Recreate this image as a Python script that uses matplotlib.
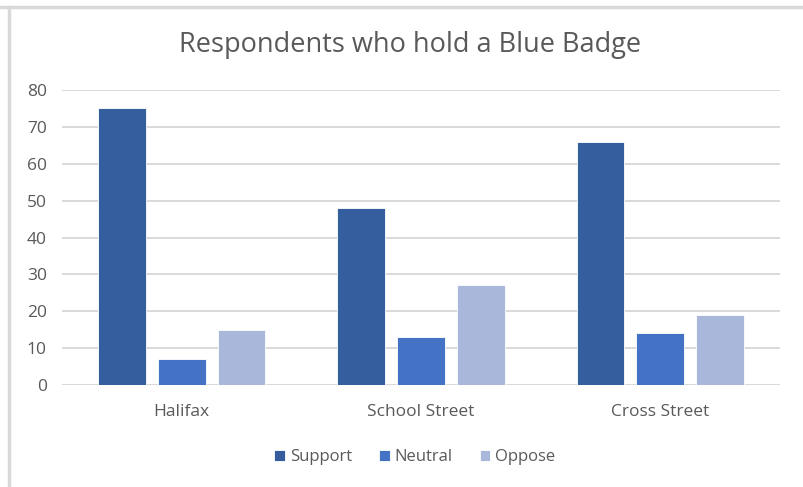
import matplotlib.pyplot as plt
import numpy as np

# chart values
categories = ["Halifax", "School Street", "Cross Street"]
series_names = ["Support", "Neutral", "Oppose"]
support = [75, 48, 66]
neutral = [7, 13, 14]
oppose = [15, 27, 19]

colors = ["#355E9F", "#4472C4", "#A9B7DB"]
text_col = "#595959"

plt.rcParams['font.family'] = ['Open Sans', 'DejaVu Sans']

fig = plt.figure(figsize=(8.04, 4.87), dpi=100)
ax = fig.add_axes([62 / 804, 1 - 385 / 487, 718 / 804, 295 / 487])

x = np.arange(len(categories))
offsets = [-0.25, 0, 0.25]
for vals, name, col, off in zip([support, neutral, oppose], series_names, colors, offsets):
    ax.bar(x + off, vals, width=0.2, color=col, label=name,
           edgecolor="white", linewidth=0.6, zorder=3)

ax.set_xlim(-0.5, 2.5)
ax.set_ylim(0, 80)
ax.set_yticks(range(0, 81, 10))
ax.set_xticks(x)
ax.set_xticklabels(categories)
ax.grid(axis="y", color="#D9D9D9", linewidth=1.4, zorder=0)
for s in ["top", "right", "left", "bottom"]:
    ax.spines[s].set_visible(False)
ax.axhline(0, color="#D9D9D9", linewidth=1.4, zorder=2)
ax.tick_params(axis="both", length=0, labelsize=12.5, colors=text_col)
ax.tick_params(axis="y", pad=11)
ax.tick_params(axis="x", pad=14)

fig.text(410 / 804, 1 - 45 / 487, "Respondents who hold a Blue Badge", ha="center", va="center",
         fontsize=19.5, color=text_col)

leg = fig.legend(loc="center", bbox_to_anchor=(415 / 804, 1 - 457 / 487), ncol=3,
                 frameon=False, fontsize=12, handlelength=0.65, handleheight=0.65,
                 handletextpad=0.3, columnspacing=1.6)
for t in leg.get_texts():
    t.set_color(text_col)

# frame lines of the screenshot
fig.add_artist(plt.Line2D([0, 1], [1 - 7 / 487, 1 - 7 / 487], color="#D9D9D9", linewidth=2.5))
fig.add_artist(plt.Line2D([8.5 / 804, 8.5 / 804], [0, 1 - 7 / 487], color="#D9D9D9", linewidth=2.5))

fig.savefig("out.png", dpi=100)
